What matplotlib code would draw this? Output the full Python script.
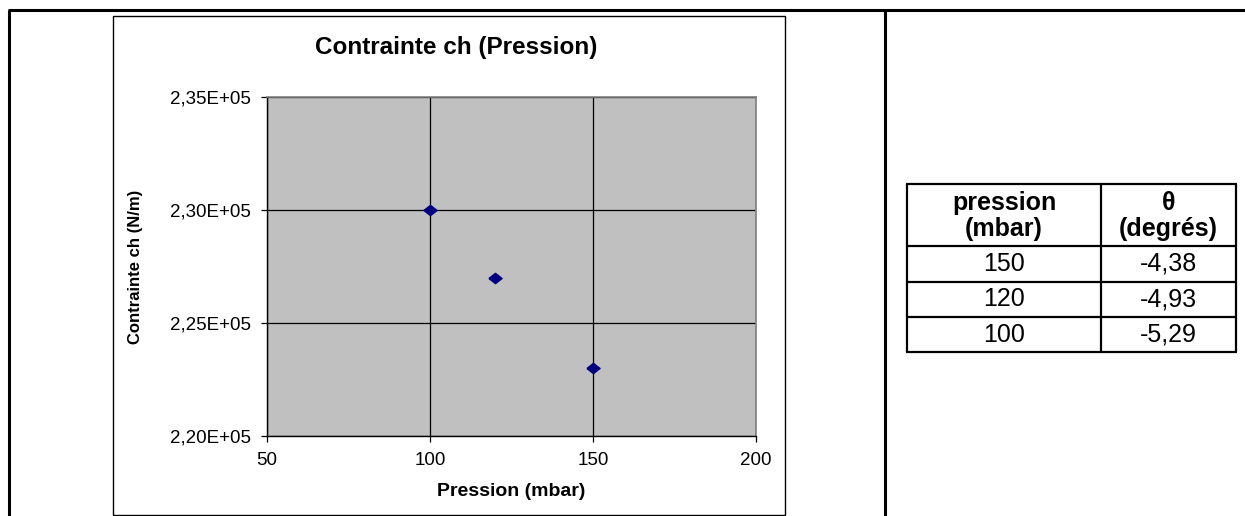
import matplotlib
matplotlib.use("Agg")
import matplotlib.pyplot as plt
from matplotlib.lines import Line2D
from matplotlib.patches import Rectangle
from matplotlib.ticker import FixedLocator, FuncFormatter

# chart data
pression = [100, 120, 150]
contrainte = [2.30e5, 2.27e5, 2.23e5]
x_ticks = [50, 100, 150, 200]
y_ticks = [2.20e5, 2.25e5, 2.30e5, 2.35e5]

# table data
table_pression = [150, 120, 100]
table_theta = [-4.38, -4.93, -5.29]

W, H = 1245, 516
plt.rcParams['font.family'] = ['Liberation Sans', 'DejaVu Sans']

fig = plt.figure(figsize=(W / 100, H / 100), dpi=100)


def fx(x):
    return x / W


def fy(y):
    return 1 - y / H


def hline(x0, x1, y, lw=2.0, color='black'):
    fig.add_artist(Line2D([fx(x0), fx(x1)], [fy(y), fy(y)], lw=lw, color=color,
                          solid_capstyle='butt'))


def vline(x, y0, y1, lw=2.0, color='black'):
    fig.add_artist(Line2D([fx(x), fx(x)], [fy(y0), fy(y1)], lw=lw, color=color,
                          solid_capstyle='butt'))


# outer document table
hline(8, W, 10, lw=2.2)
vline(9, 10, H, lw=2.2)
vline(885, 10, H, lw=2.2)

# chart frame
fig.add_artist(Rectangle((fx(113), fy(515)), fx(785) - fx(113), fy(16) - fy(515),
                         fill=False, edgecolor='black', lw=1.0))

# plot area
left, right, top, bottom = 267, 756, 97, 436
ax = fig.add_axes([fx(left), fy(bottom), fx(right) - fx(left), fy(top) - fy(bottom)])
ax.set_facecolor('#C0C0C0')
ax.set_xlim(50, 200)
ax.set_ylim(2.20e5, 2.35e5)
ax.xaxis.set_major_locator(FixedLocator(x_ticks))
ax.yaxis.set_major_locator(FixedLocator(y_ticks))
ax.yaxis.set_major_formatter(FuncFormatter(lambda v, p: f"{v:.2E}".replace('.', ',')))
ax.grid(True, color='black', lw=0.9)
ax.set_axisbelow(True)
for s in ['top', 'right']:
    ax.spines[s].set_color('#808080')
    ax.spines[s].set_linewidth(1.2)
for s in ['left', 'bottom']:
    ax.spines[s].set_color('black')
    ax.spines[s].set_linewidth(1.0)
ax.tick_params(axis='both', direction='out', length=4.5, width=0.9, labelsize=13.5,
               pad=7, colors='black')

diamond = [(-1, 0), (0, 0.78), (1, 0), (0, -0.78), (-1, 0)]
ax.plot(pression, contrainte, linestyle='none', marker=diamond, markersize=9.5,
        color='#000080', clip_on=False, zorder=5)

ax.set_xlabel('Pression (mbar)', fontsize=14, fontweight='bold')
ax.xaxis.set_label_coords(0.5, (bottom - 483) / (bottom - top))
ax.set_ylabel('Contrainte ch (N/m)', fontsize=12, fontweight='bold')
ax.yaxis.set_label_coords((143 - left) / (right - left), 0.5)

fig.text(fx(456), fy(48), 'Contrainte ch (Pression)', ha='center', va='center',
         fontsize=17.5, fontweight='bold')

# right-hand table
tx0, tx1, tx2 = 907, 1101, 1236
ty = [184, 246, 282, 317, 352]
for y in ty:
    hline(tx0 - 1, tx2 + 1, y, lw=1.6)
for x in (tx0, tx1, tx2):
    vline(x, ty[0], ty[-1], lw=1.6)

c0 = (tx0 + tx1) / 2
c1 = (tx1 + tx2) / 2
fig.text(fx(c0), fy(216), 'pression\n(mbar)', ha='center', va='center',
         fontsize=18, fontweight='bold', linespacing=1.15)
fig.text(fx(c1), fy(216), 'θ\n(degrés)', ha='center', va='center',
         fontsize=18, fontweight='bold', linespacing=1.15)
for i, (p, t) in enumerate(zip(table_pression, table_theta)):
    yc = (ty[i + 1] + ty[i + 2]) / 2
    fig.text(fx(c0), fy(yc), f"{p}", ha='center', va='center', fontsize=18)
    fig.text(fx(c1), fy(yc), f"{t:.2f}".replace('.', ','), ha='center', va='center',
             fontsize=18)

fig.savefig('out.png', dpi=100)
